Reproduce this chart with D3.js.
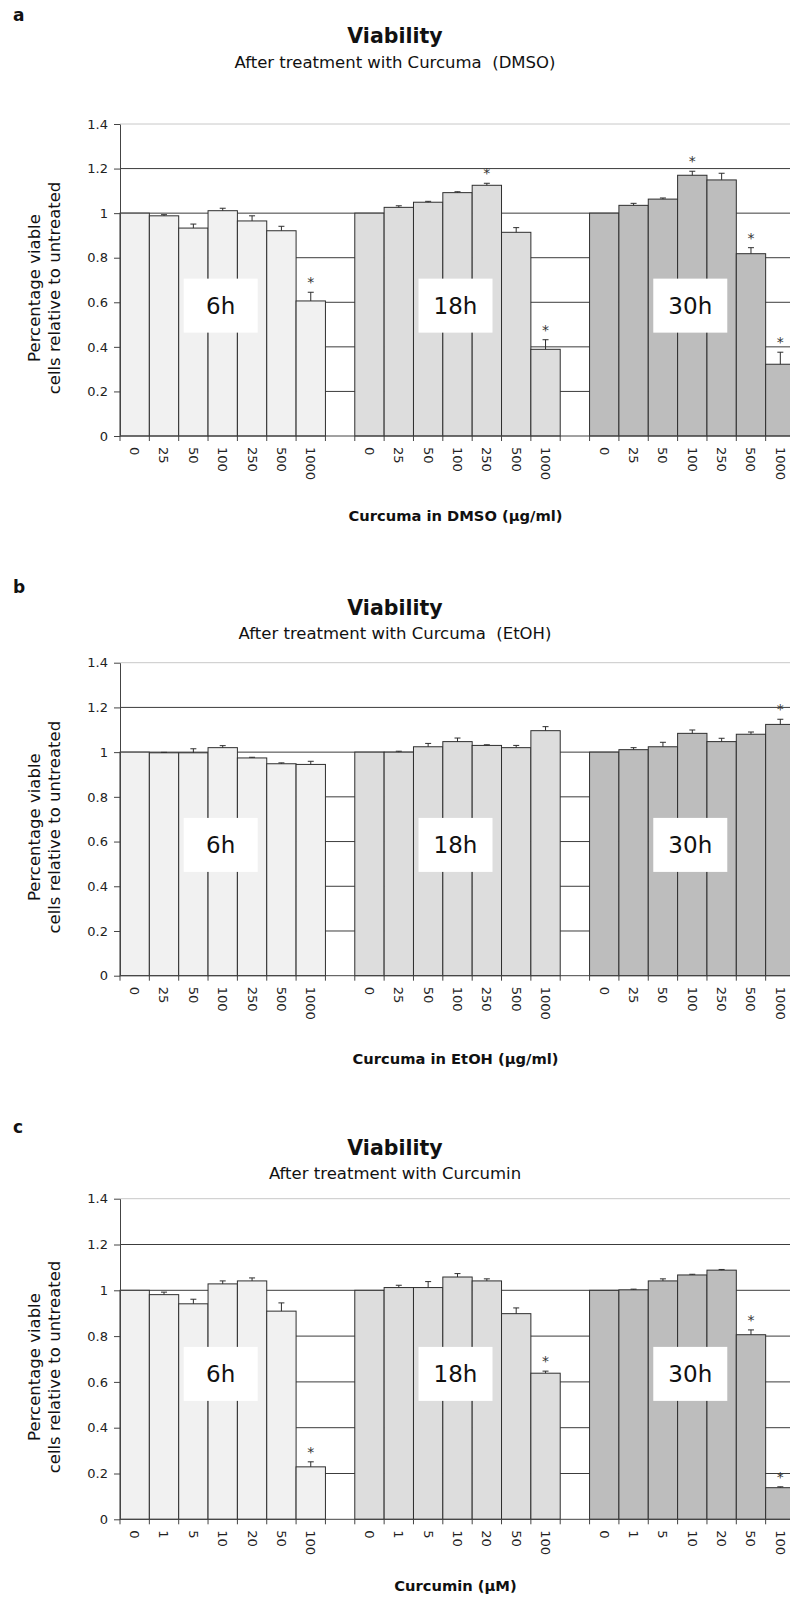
<!DOCTYPE html>
<html>
<head>
<meta charset="utf-8">
<script src="https://cdn.jsdelivr.net/npm/d3@7"></script>
<style>
  body { margin: 0; background: #fff; }
  svg text { font-family: "DejaVu Sans", Verdana, sans-serif; }
</style>
</head>
<body>
<svg id="fig" width="790" height="1598"></svg>
<script>
// --- data ---
const timepoints = ['6h', '18h', '30h'];
const doseUgMl = ['0', '25', '50', '100', '250', '500', '1000'];
const doseUM = ['0', '1', '5', '10', '20', '50', '100'];
const yTicks = [0, 0.2, 0.4, 0.6, 0.8, 1, 1.2, 1.4];

// panel a: curcuma in DMSO
const dmsoMeans = [
  [1.0, 0.988, 0.933, 1.011, 0.965, 0.921, 0.606],
  [1.0, 1.026, 1.049, 1.092, 1.125, 0.914, 0.389],
  [1.0, 1.035, 1.063, 1.170, 1.149, 0.818, 0.322]
];
const dmsoErrors = [
  [0, 0.005, 0.018, 0.011, 0.023, 0.020, 0.039],
  [0, 0.007, 0.004, 0.004, 0.009, 0.021, 0.043],
  [0, 0.009, 0.005, 0.018, 0.030, 0.027, 0.054]
];
const dmsoStars = [
  [0, 0, 0, 0, 0, 0, 1],
  [0, 0, 0, 0, 1, 0, 1],
  [0, 0, 0, 1, 0, 1, 1]
];

// panel b: curcuma in EtOH
const etohMeans = [
  [1.0, 0.997, 0.997, 1.020, 0.974, 0.948, 0.945],
  [1.0, 1.000, 1.024, 1.047, 1.030, 1.020, 1.096],
  [1.0, 1.011, 1.024, 1.084, 1.047, 1.080, 1.124]
];
const etohErrors = [
  [0, 0.002, 0.018, 0.009, 0.003, 0.004, 0.014],
  [0, 0.004, 0.015, 0.016, 0.003, 0.010, 0.018],
  [0, 0.009, 0.020, 0.015, 0.015, 0.010, 0.023]
];
const etohStars = [
  [0, 0, 0, 0, 0, 0, 0],
  [0, 0, 0, 0, 0, 0, 0],
  [0, 0, 0, 0, 0, 0, 1]
];

// panel c: curcumin
const curcuminMeans = [
  [1.0, 0.981, 0.941, 1.028, 1.041, 0.909, 0.229],
  [1.0, 1.012, 1.012, 1.058, 1.041, 0.898, 0.638],
  [1.0, 1.002, 1.041, 1.067, 1.088, 0.806, 0.138]
];
const curcuminErrors = [
  [0, 0.011, 0.020, 0.013, 0.013, 0.036, 0.022],
  [0, 0.010, 0.026, 0.015, 0.009, 0.025, 0.009],
  [0, 0.003, 0.009, 0.003, 0.003, 0.021, 0.004]
];
const curcuminStars = [
  [0, 0, 0, 0, 0, 0, 1],
  [0, 0, 0, 0, 0, 0, 1],
  [0, 0, 0, 0, 0, 1, 1]
];

// --- layout ---
const groupFills = ['#f1f1f1', '#dddddd', '#bdbdbd'];
const plotLeft = 120;
const plotRight = 795;   // last bar runs off the page edge
const slotsPerGroup = 8; // 7 doses + 1 empty slot

const panels = [
  {
    letter: 'a', letterY: 21, titleY: 43, subY: 68, top: 124, bottom: 436, xTitleY: 521, boxValue: 0.585,
    subtitle: 'After treatment with Curcuma  (DMSO)', xTitle: 'Curcuma in DMSO (µg/ml)',
    doses: doseUgMl, means: dmsoMeans, errors: dmsoErrors, stars: dmsoStars
  },
  {
    letter: 'b', letterY: 593, titleY: 615, subY: 639, top: 662.7, bottom: 975.7, xTitleY: 1064, boxValue: 0.585,
    subtitle: 'After treatment with Curcuma  (EtOH)', xTitle: 'Curcuma in EtOH (µg/ml)',
    doses: doseUgMl, means: etohMeans, errors: etohErrors, stars: etohStars
  },
  {
    letter: 'c', letterY: 1133, titleY: 1155, subY: 1179, top: 1198.7, bottom: 1519.3, xTitleY: 1591, boxValue: 0.635,
    subtitle: 'After treatment with Curcumin', xTitle: 'Curcumin (µM)',
    doses: doseUM, means: curcuminMeans, errors: curcuminErrors, stars: curcuminStars
  }
];

const svg = d3.select('#fig');

const x = d3.scaleBand()
  .domain(d3.range(timepoints.length * slotsPerGroup - 1))
  .range([plotLeft, plotRight])
  .padding(0);

panels.forEach((panel) => drawPanel(panel));

function drawPanel(panel) {
  const g = svg.append('g');
  const y = d3.scaleLinear().domain([0, 1.4]).range([panel.bottom, panel.top]);
  const midX = 395;

  // headings
  g.append('text').attr('x', 13).attr('y', panel.letterY)
    .attr('font-size', 17).attr('font-weight', 'bold').attr('fill', '#111').text(panel.letter);
  g.append('text').attr('x', midX).attr('y', panel.titleY).attr('text-anchor', 'middle')
    .attr('font-size', 20.5).attr('font-weight', 'bold').attr('fill', '#111').text('Viability');
  g.append('text').attr('x', midX).attr('y', panel.subY).attr('text-anchor', 'middle')
    .attr('font-size', 16.5).attr('fill', '#111').style('white-space', 'pre').text(panel.subtitle);

  // gridlines behind the bars
  g.append('g').selectAll('line')
    .data(yTicks.filter((v) => v > 0))
    .join('line')
    .attr('x1', plotLeft).attr('x2', plotRight)
    .attr('y1', (v) => y(v)).attr('y2', (v) => y(v))
    .attr('stroke', (v) => (v === 1.4 ? '#c8c8c8' : '#3c3c3c'))
    .attr('stroke-width', 1);

  // flatten bars
  const bars = [];
  timepoints.forEach((tp, gi) => {
    panel.doses.forEach((dose, di) => {
      bars.push({
        group: gi,
        slot: gi * slotsPerGroup + di,
        value: panel.means[gi][di],
        err: panel.errors[gi][di],
        star: panel.stars[gi][di]
      });
    });
  });

  g.append('g').selectAll('rect')
    .data(bars)
    .join('rect')
    .attr('x', (d) => x(d.slot))
    .attr('y', (d) => y(d.value))
    .attr('width', x.bandwidth())
    .attr('height', (d) => y(0) - y(d.value))
    .attr('fill', (d) => groupFills[d.group])
    .attr('stroke', '#2e2e2e')
    .attr('stroke-width', 1);

  // upper error bars
  const errG = g.append('g').attr('stroke', '#2e2e2e').attr('stroke-width', 1);
  const withErr = bars.filter((d) => d.err > 0);
  errG.selectAll('line.stem')
    .data(withErr)
    .join('line')
    .attr('class', 'stem')
    .attr('x1', (d) => x(d.slot) + x.bandwidth() / 2)
    .attr('x2', (d) => x(d.slot) + x.bandwidth() / 2)
    .attr('y1', (d) => y(d.value))
    .attr('y2', (d) => y(d.value + d.err));
  errG.selectAll('line.cap')
    .data(withErr)
    .join('line')
    .attr('class', 'cap')
    .attr('x1', (d) => x(d.slot) + x.bandwidth() / 2 - 3)
    .attr('x2', (d) => x(d.slot) + x.bandwidth() / 2 + 3)
    .attr('y1', (d) => y(d.value + d.err))
    .attr('y2', (d) => y(d.value + d.err));

  // significance stars
  g.append('g').selectAll('text')
    .data(bars.filter((d) => d.star))
    .join('text')
    .attr('x', (d) => x(d.slot) + x.bandwidth() / 2)
    .attr('y', (d) => y(d.value + d.err) - 5)
    .attr('text-anchor', 'middle')
    .attr('font-size', 14)
    .attr('fill', '#333')
    .text('*');

  // time-point label boxes
  const boxes = g.append('g').selectAll('g')
    .data(timepoints)
    .join('g')
    .attr('transform', (tp, gi) => {
      const first = x(gi * slotsPerGroup);
      const last = x(gi * slotsPerGroup + panel.doses.length - 1) + x.bandwidth();
      return `translate(${(first + last) / 2 - 2},${y(panel.boxValue)})`;
    });
  boxes.append('rect').attr('x', -37).attr('y', -27).attr('width', 74).attr('height', 54).attr('fill', '#fff');
  boxes.append('text').attr('text-anchor', 'middle').attr('dy', '0.36em')
    .attr('font-size', 23).attr('fill', '#111').text((tp) => tp);

  // y axis
  const yAxis = g.append('g')
    .attr('transform', `translate(${plotLeft},0)`)
    .call(d3.axisLeft(y).tickValues(yTicks).tickFormat((v) => String(v)).tickSize(6).tickSizeOuter(0).tickPadding(6));
  yAxis.select('.domain').attr('stroke', '#444');
  yAxis.selectAll('.tick line').attr('stroke', '#444');
  yAxis.selectAll('.tick text').attr('font-size', 13).attr('fill', '#222')
    .style('font-family', '"DejaVu Sans", Verdana, sans-serif');

  // x axis: line, slot-boundary ticks, rotated dose labels
  const xAxisG = g.append('g').attr('transform', `translate(0,${panel.bottom})`);
  xAxisG.append('line').attr('x1', plotLeft).attr('x2', plotRight).attr('stroke', '#444');
  const bounds = x.domain().map((s) => x(s)).concat([plotRight]);
  xAxisG.selectAll('line.tick')
    .data(bounds)
    .join('line')
    .attr('class', 'tick')
    .attr('x1', (v) => v).attr('x2', (v) => v)
    .attr('y1', 0).attr('y2', 5)
    .attr('stroke', '#444');
  const labelAxis = xAxisG.append('g')
    .call(d3.axisBottom(x)
      .tickValues(bars.map((d) => d.slot))
      .tickFormat((s) => panel.doses[s % slotsPerGroup])
      .tickSize(0));
  labelAxis.select('.domain').remove();
  labelAxis.selectAll('.tick text')
    .attr('transform', 'rotate(90)')
    .attr('x', 11).attr('y', 0).attr('dy', '0.35em')
    .attr('text-anchor', 'start')
    .attr('font-size', 13).attr('fill', '#222')
    .style('font-family', '"DejaVu Sans", Verdana, sans-serif');

  // axis titles
  const cy = (panel.top + panel.bottom) / 2 + 8;
  g.append('text').attr('transform', `translate(40,${cy}) rotate(-90)`).attr('text-anchor', 'middle')
    .attr('font-size', 16.5).attr('fill', '#111').text('Percentage viable');
  g.append('text').attr('transform', `translate(60,${cy}) rotate(-90)`).attr('text-anchor', 'middle')
    .attr('font-size', 16.5).attr('fill', '#111').text('cells relative to untreated');
  g.append('text').attr('x', (plotLeft + plotRight) / 2 - 2).attr('y', panel.xTitleY).attr('text-anchor', 'middle')
    .attr('font-size', 14.7).attr('font-weight', 'bold').attr('fill', '#111').text(panel.xTitle);
}
</script>
</body>
</html>
